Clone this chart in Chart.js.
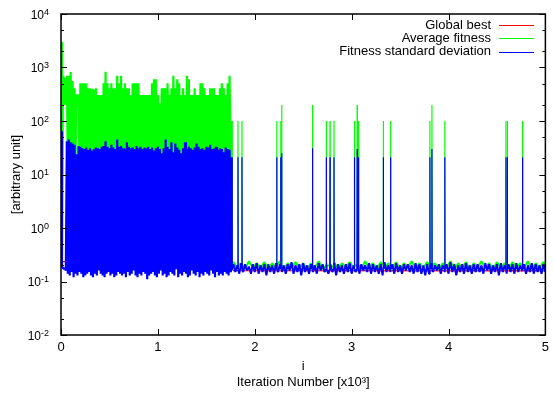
<!DOCTYPE html>
<html>
<head>
<meta charset="utf-8">
<script src="https://cdn.jsdelivr.net/npm/chart.js@4.4.1/dist/chart.umd.min.js"></script>
<style>
html,body{margin:0;padding:0;background:#fff;}
canvas{display:block;}
</style>
</head>
<body>
<canvas id="c" width="554" height="395"></canvas>
<script>
// ---------------- data (x in units of 10^3 iterations) ----------------
const seriesNames = ['Global best', 'Average fitness', 'Fitness standard deviation'];
const xTickValues = [0, 1, 2, 3, 4, 5];
const yTickExponents = [-2, -1, 0, 1, 2, 3, 4];
const yMinorMultipliers = [2, 5];

// Phase 1 (turbulent part): one high sample every 0.02, followed by a low sample 0.01 later
const phase1Start = 0;
const phase1Step = 0.02;
const phase1End = 1.77;
const avgHigh1 = [
  3000,700,650,700,700,820,560,410,305,305,
  510,510,510,510,410,410,400,380,410,305,
  305,305,510,830,510,410,510,410,410,700,
  510,700,410,510,410,410,305,510,510,510,
  510,305,305,305,305,305,305,510,600,600,
  305,215,410,410,410,510,305,410,700,410,
  600,510,305,410,305,700,600,305,305,410,
  305,305,510,510,410,305,305,410,410,410,
  305,305,410,510,410,305,510,700
];
const avgLow1 = [
  0.3,200,200,20,22,20,21,20,300,20,
  21,20,22,20,20,21,20,22,20,21,
  20,22,20,21,20,20,22,20,21,20,
  20,21,20,22,20,21,20,20,22,21,
  20,20,21,20,22,20,21,20,20,22,
  20,21,20,20,22,20,21,20,20,21,
  22,20,20,21,20,22,20,21,20,20,
  21,20,22,20,20,21,20,20,22,20,
  21,20,20,22,20,21,20,20
];
const stdHigh1 = [
  64,0.18,0.18,42,45,40,38,36,24,34,
  33,31,30,32,29,31,28,30,32,31,
  30,33,34,42,33,31,36,32,30,45,
  33,34,31,30,40,33,31,32,30,34,
  31,33,30,32,31,33,30,32,28,31,
  33,30,25,31,45,33,30,40,26,38,
  32,29,25,31,40,30,33,31,29,32,
  38,33,30,31,29,33,32,36,30,31,
  33,29,31,30,26,32,30,29
];
const stdLow1 = [
  0.19,0.17,0.16,0.14,0.13,0.15,0.12,0.14,0.13,0.15,
  0.14,0.12,0.13,0.14,0.15,0.13,0.12,0.14,0.13,0.16,
  0.14,0.13,0.12,0.14,0.15,0.13,0.14,0.12,0.13,0.15,
  0.14,0.13,0.14,0.12,0.15,0.13,0.14,0.16,0.13,0.12,
  0.14,0.13,0.15,0.14,0.11,0.13,0.14,0.15,0.13,0.12,
  0.14,0.16,0.13,0.14,0.12,0.13,0.15,0.14,0.13,0.17,
  0.12,0.14,0.13,0.15,0.14,0.12,0.13,0.16,0.14,0.13,
  0.15,0.12,0.14,0.13,0.15,0.14,0.13,0.16,0.14,0.12,
  0.15,0.13,0.14,0.13,0.15,0.14,0.13,0.15
];

// Phase 2 (converged part)
const phase2Start = 1.78;
const stdStep2 = 0.04;
const stdHigh2 = [
  0.21,0.2,0.22,0.21,0.19,0.21,0.22,0.2,0.21,0.21,
  0.2,0.22,0.21,0.2,0.21,0.23,0.2,0.21,0.22,0.2,
  0.21,0.2,0.22,0.21,0.2,0.21,0.22,0.21,0.2,0.21,
  0.22,0.2,0.21,0.21,0.2,0.22,0.21,0.2,0.21,0.23,
  0.2,0.21,0.22,0.2,0.21,0.21,0.2,0.22,0.21,0.2,
  0.21,0.22,0.2,0.21,0.2,0.21,0.23,0.21,0.2,0.21,
  0.22,0.2,0.21,0.21,0.2,0.22,0.21,0.2,0.21,0.22,
  0.2,0.21,0.21,0.22,0.2,0.21,0.2,0.22,0.21,0.2,
  0.21
];
const stdLow2 = [
  0.15,0.14,0.15,0.16,0.14,0.15,0.14,0.15,0.13,0.15,
  0.14,0.15,0.15,0.14,0.16,0.14,0.15,0.13,0.15,0.14,
  0.15,0.14,0.16,0.15,0.14,0.15,0.13,0.15,0.14,0.15,
  0.14,0.15,0.14,0.16,0.15,0.14,0.15,0.14,0.13,0.15,
  0.15,0.14,0.15,0.14,0.16,0.15,0.14,0.15,0.14,0.13,
  0.14,0.15,0.16,0.14,0.15,0.14,0.15,0.13,0.15,0.14,
  0.15,0.14,0.15,0.15,0.14,0.16,0.14,0.15,0.13,0.15,
  0.14,0.15,0.14,0.15,0.16,0.14,0.15,0.14,0.15,0.14,
  0.15
];
const avgStep2 = 0.08;
const avgHigh2 = [
  0.23,0.22,0.24,0.22,0.23,0.22,0.24,0.22,0.23,0.22,
  0.22,0.24,0.22,0.23,0.22,0.23,0.22,0.24,0.22,0.23,
  0.22,0.23,0.22,0.24,0.22,0.23,0.22,0.22,0.24,0.22,
  0.23,0.22,0.24,0.22,0.23,0.22,0.23,0.22,0.24,0.22,
  0.23
];
const avgLow2 = [
  0.18,0.17,0.18,0.18,0.17,0.18,0.17,0.18,0.18,0.17,
  0.18,0.17,0.18,0.17,0.18,0.18,0.17,0.18,0.17,0.18,
  0.18,0.17,0.18,0.17,0.18,0.18,0.17,0.18,0.17,0.18,
  0.17,0.18,0.18,0.17,0.18,0.17,0.18,0.18,0.17,0.18,
  0.18
];

// Isolated re-diversification spikes
const spikeX    = [1.762,1.827,1.868,2.227,2.268,2.278,2.596,2.739,2.777,2.818,3.029,3.057,3.071,3.327,3.402,3.808,3.829,3.962,4.593,4.607,4.764];
const spikeAvg  = [100,100,100,100,100,200,200,100,100,100,100,200,100,100,100,100,200,100,100,100,100];
const spikeStd  = [21,21,21,21,21,25,31,21,21,21,21,30,21,21,21,21,30,21,21,21,21];
const spikeAvgBase = [0.2,0.2,0.2,0.2,0.2,0.2,0.2,0.2,0.2,0.2,0.2,0.2,0.2,0.2,0.2,0.2,0.2,0.2,0.2,0.2,0.2];
const spikeStdBase = [0.17,0.17,0.17,0.17,0.17,0.17,0.17,0.17,0.17,0.17,0.17,0.17,0.17,0.17,0.17,0.17,0.17,0.17,0.17,0.17,0.17];

// Global best
const bestX = [0, 0.062, 0.064, 1.44, 1.45, 1.77, 1.78, 5];
const bestY = [0.236, 0.236, 0.18, 0.18, 0.17, 0.17, 0.16, 0.158];

// ---------------- build point tables ----------------
function zigzagPoints(start, step, highs, lows) {
  const pts = [];
  for (let i = 0; i < highs.length; i++) {
    const x = start + i * step;
    pts.push({x: x, y: highs[i]});
    pts.push({x: x + step / 2, y: lows[i]});
  }
  return pts;
}
function spikePoints(xs, peaks, bases) {
  const pts = [];
  xs.forEach((x, i) => {
    pts.push({x: x - 0.002, y: bases[i]}, {x: x, y: peaks[i]}, {x: x + 0.002, y: bases[i]});
  });
  return pts;
}
const byX = (a, b) => a.x - b.x;

const avgPoints = zigzagPoints(phase1Start, phase1Step, avgHigh1, avgLow1)
  .concat(spikePoints(spikeX, spikeAvg, spikeAvgBase))
  .concat(zigzagPoints(phase2Start, avgStep2, avgHigh2, avgLow2))
  .sort(byX);
const stdPoints = zigzagPoints(phase1Start, phase1Step, stdHigh1, stdLow1)
  .concat(spikePoints(spikeX, spikeStd, spikeStdBase))
  .concat(zigzagPoints(phase2Start, stdStep2, stdHigh2, stdLow2))
  .sort(byX);
const bestPoints = bestX.map((x, i) => ({x: x, y: bestY[i]}));

const colors = ['#ff0000', '#00ff00', '#0000ff'];
const FONT = 'Liberation Sans, Arial, Helvetica, sans-serif';

// ---------------- decorations: frame, inward ticks, y labels, legend ----------------
const decorations = {
  id: 'decorations',
  afterDatasetsDraw(chart) {
    const {ctx, chartArea: a, scales: {x, y}} = chart;
    ctx.save();
    ctx.strokeStyle = '#000';
    ctx.lineWidth = 1;
    ctx.beginPath();
    xTickValues.forEach(v => {
      const px = Math.round(x.getPixelForValue(v)) + 0.5;
      ctx.moveTo(px, a.bottom); ctx.lineTo(px, a.bottom - 6);
      ctx.moveTo(px, a.top); ctx.lineTo(px, a.top + 6);
    });
    yTickExponents.forEach(e => {
      const py = Math.round(y.getPixelForValue(Math.pow(10, e))) + 0.5;
      ctx.moveTo(a.left, py); ctx.lineTo(a.left + 6, py);
      ctx.moveTo(a.right, py); ctx.lineTo(a.right - 6, py);
      if (e < yTickExponents[yTickExponents.length - 1]) {
        yMinorMultipliers.forEach(m => {
          const pm = Math.round(y.getPixelForValue(m * Math.pow(10, e))) + 0.5;
          ctx.moveTo(a.left, pm); ctx.lineTo(a.left + 3, pm);
          ctx.moveTo(a.right, pm); ctx.lineTo(a.right - 3, pm);
        });
      }
    });
    ctx.stroke();
    ctx.lineWidth = 1.5;
    ctx.strokeRect(a.left, a.top, a.right - a.left, a.bottom - a.top);

    // y tick labels 10^e
    ctx.fillStyle = '#000';
    yTickExponents.forEach(e => {
      const py = y.getPixelForValue(Math.pow(10, e));
      const expText = String(e);
      ctx.font = '9px ' + FONT;
      ctx.textAlign = 'right';
      ctx.textBaseline = 'alphabetic';
      const expW = ctx.measureText(expText).width;
      ctx.fillText(expText, 49, py + 0.5);
      ctx.font = '12px ' + FONT;
      ctx.fillText('10', 49 - expW, py + 4.8);
    });

    // legend
    ctx.font = '13px ' + FONT;
    ctx.textAlign = 'right';
    ctx.textBaseline = 'middle';
    chart.data.datasets.forEach((ds, i) => {
      const ry = 25 + i * 13.3;
      ctx.fillStyle = '#000';
      ctx.fillText(ds.label, 491, ry);
      ctx.strokeStyle = colors[i];
      ctx.lineWidth = 1.2;
      ctx.beginPath();
      ctx.moveTo(499, Math.round(ry) + 0.5);
      ctx.lineTo(534, Math.round(ry) + 0.5);
      ctx.stroke();
    });
    ctx.restore();
  }
};

// thicker strokes where the samples are dense, thin strokes for isolated spikes
const segWidth = c => {
  if (c.p1.parsed.x <= phase1End) return 2.2;
  if (c.p0.parsed.y < 1 && c.p1.parsed.y < 1) return 2;
  return 1.2;
};

new Chart(document.getElementById('c'), {
  type: 'line',
  data: {
    datasets: [
      {label: seriesNames[0], data: bestPoints, borderColor: colors[0], order: 3, borderWidth: 1.2},
      {label: seriesNames[1], data: avgPoints, borderColor: colors[1], order: 2, borderWidth: 1.4,
       segment: {borderWidth: segWidth}},
      {label: seriesNames[2], data: stdPoints, borderColor: colors[2], order: 1, borderWidth: 1.4,
       segment: {borderWidth: segWidth}}
    ].map(d => Object.assign(d, {
      pointRadius: 0, fill: false, tension: 0,
      borderJoinStyle: 'bevel', backgroundColor: d.borderColor
    }))
  },
  options: {
    responsive: false,
    animation: false,
    events: [],
    layout: {padding: {left: 0, right: 5, top: 14, bottom: 0}},
    plugins: {legend: {display: false}, tooltip: {enabled: false}},
    scales: {
      x: {
        type: 'linear', min: 0, max: 5,
        grid: {display: false, drawTicks: false}, border: {display: false},
        ticks: {stepSize: 1, color: '#000', padding: 5, maxRotation: 0,
                font: {family: FONT, size: 13}},
        title: {display: true, text: ['i', 'Iteration Number [x10\u00b3]'], color: '#000',
                font: {family: FONT, size: 13}, padding: {top: 0, bottom: 5}},
        afterFit: s => { s.height = 60; }
      },
      y: {
        type: 'logarithmic', min: 0.01, max: 10000,
        grid: {display: false, drawTicks: false}, border: {display: false},
        ticks: {display: false},
        title: {display: true, text: '[arbitrary unit]', color: '#000',
                font: {family: FONT, size: 13}, padding: {top: 9, bottom: 0}},
        afterFit: s => { s.width = 61; }
      }
    }
  },
  plugins: [decorations]
});
</script>
</body>
</html>
